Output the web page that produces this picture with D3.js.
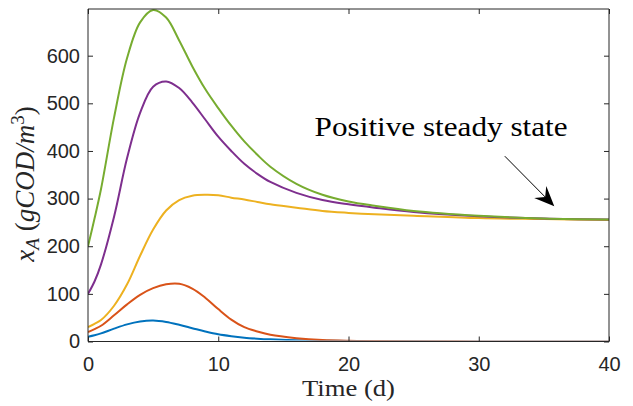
<!DOCTYPE html>
<html>
<head>
<meta charset="utf-8">
<script src="https://cdn.jsdelivr.net/npm/d3@7"></script>
<style>
  html, body { margin: 0; padding: 0; background: #ffffff; }
  svg { display: block; }
</style>
</head>
<body>
<svg id="chart" width="633" height="406"></svg>
<script>
// ---- data ----
const time = [0, 0.5, 1, 2, 3, 4, 5, 6, 7, 8, 9, 10, 11, 12, 13, 14, 16, 18, 20, 22, 25, 30, 35, 40];
const seriesBlue   = [10, 13, 17, 27, 36, 42, 44, 41, 35, 28, 21, 15, 11, 8, 6, 4.5, 2.5, 1.5, 1, 0.6, 0.3, 0.1, 0, 0];
const seriesOrange = [20, 26, 33, 55, 78, 98, 112, 120, 121, 111, 92, 68, 46, 30, 21, 14, 7, 3, 1.5, 1, 0.5, 0.2, 0, 0];
const seriesYellow = [30, 37, 45, 75, 120, 180, 235, 275, 297, 306, 308, 307, 302, 298, 293, 288, 281, 274, 270, 267, 264, 259, 257, 255];
const seriesPurple = [100, 126, 162, 262, 385, 480, 535, 546, 532, 502, 466, 430, 400, 373, 352, 335, 312, 297, 288, 281, 272, 263, 258, 256];
const seriesGreen  = [200, 258, 320, 470, 595, 670, 696, 680, 632, 578, 530, 490, 453, 420, 392, 367, 331, 308, 294, 285, 274, 264, 258, 256];
const seriesColors = ["#0072BD", "#D95319", "#EDB120", "#7E2F8E", "#77AC30"];
const xTicks = [0, 10, 20, 30, 40];
const yTicks = [0, 100, 200, 300, 400, 500, 600];
const xDomain = [0, 40];
const yDomain = [0, 698];
const annotationText = "Positive steady state";
const annotationTextAt = [17.4, 432];     // data coords (t, value) of text start/baseline
const arrowFrom = [32.0, 389];            // data coords
const arrowTo = [35.8, 284];              // data coords

// ---- layout ----
const svg = d3.select("#chart");
const mLeft = 88, mRight = 609, mTop = 9, mBottom = 341.5;
const x = d3.scaleLinear().domain(xDomain).range([mLeft, mRight]);
const y = d3.scaleLinear().domain(yDomain).range([mBottom, mTop]);
const axisColor = "#262626";
const tickFont = "'Liberation Sans', Arial, Helvetica, sans-serif";
const serifFont = "'Liberation Serif', 'Times New Roman', serif";

// ---- lines ----
const allSeries = [seriesBlue, seriesOrange, seriesYellow, seriesPurple, seriesGreen];
const line = d3.line()
  .x((d, i) => x(time[i]))
  .y(d => y(Math.max(0, d)))
  .curve(d3.curveCatmullRom.alpha(0.5));

const plot = svg.append("g");
plot.append("clipPath").attr("id", "clip")
  .append("rect").attr("x", mLeft).attr("y", mTop - 2).attr("width", mRight - mLeft).attr("height", mBottom - mTop + 1);
const linesG = plot.append("g").attr("clip-path", "url(#clip)");
allSeries.forEach((s, k) => {
  linesG.append("path")
    .datum(s)
    .attr("d", line)
    .attr("fill", "none")
    .attr("stroke", seriesColors[k])
    .attr("stroke-width", 2)
    .attr("stroke-linejoin", "round");
});

// ---- axes (box on, ticks inside on all sides) ----
const tickLen = 5;
const xAxisB = d3.axisBottom(x).tickValues(xTicks).tickSize(-tickLen).tickPadding(tickLen + 10).tickFormat(d3.format("d"));
const xAxisT = d3.axisTop(x).tickValues(xTicks).tickSize(-tickLen).tickFormat("");
const yAxisL = d3.axisLeft(y).tickValues(yTicks).tickSize(-tickLen).tickPadding(tickLen + 3).tickFormat(d3.format("d"));
const yAxisR = d3.axisRight(y).tickValues(yTicks).tickSize(-tickLen).tickFormat("");

function styleAxis(g) {
  g.select(".domain").attr("stroke", axisColor).attr("stroke-width", 1);
  g.selectAll(".tick line").attr("stroke", axisColor).attr("stroke-width", 1);
  g.selectAll(".tick text").attr("fill", axisColor).attr("font-family", tickFont).attr("font-size", 20);
}
svg.append("g").attr("transform", `translate(0,${mBottom})`).call(xAxisB).call(styleAxis)
  .call(g => g.select(".domain").attr("d", `M${mLeft},0H${mRight}`));
svg.append("g").attr("transform", `translate(0,${mTop})`).call(xAxisT).call(styleAxis)
  .call(g => g.select(".domain").attr("d", `M${mLeft},0H${mRight}`));
svg.append("g").attr("transform", `translate(${mLeft},0)`).call(yAxisL).call(styleAxis)
  .call(g => g.select(".domain").attr("d", `M0,${mTop}V${mBottom}`));
svg.append("g").attr("transform", `translate(${mRight},0)`).call(yAxisR).call(styleAxis)
  .call(g => g.select(".domain").attr("d", `M0,${mTop}V${mBottom}`));

// ---- axis labels ----
svg.append("text")
  .attr("x", (mLeft + mRight) / 2)
  .attr("y", 396)
  .attr("text-anchor", "middle")
  .attr("font-family", serifFont)
  .attr("font-size", 24)
  .attr("fill", axisColor)
  .attr("textLength", 93)
  .attr("lengthAdjust", "spacingAndGlyphs")
  .text("Time (d)");

const yl = svg.append("text")
  .attr("transform", `translate(34,184) rotate(-90)`)
  .attr("text-anchor", "middle")
  .attr("font-family", serifFont)
  .attr("font-size", 27)
  .attr("fill", axisColor);
yl.append("tspan").attr("font-style", "italic").text("x");
yl.append("tspan").attr("font-style", "italic").attr("font-size", 19).attr("dy", 5).text("A");
yl.append("tspan").attr("dy", -5).text(" (");
yl.append("tspan").attr("font-style", "italic").text("gCOD/m");
yl.append("tspan").attr("font-size", 19).attr("dy", -10).text("3");
yl.append("tspan").attr("dy", 10).text(")");

// ---- annotation ----
svg.append("text")
  .attr("x", x(annotationTextAt[0]))
  .attr("y", y(annotationTextAt[1]))
  .attr("font-family", serifFont)
  .attr("font-size", 27)
  .attr("fill", "#000")
  .attr("textLength", 253)
  .attr("lengthAdjust", "spacingAndGlyphs")
  .text(annotationText);

const ax0 = x(arrowFrom[0]), ay0 = y(arrowFrom[1]);
const ax1 = x(arrowTo[0]), ay1 = y(arrowTo[1]);
const ang = Math.atan2(ay1 - ay0, ax1 - ax0);
const headLen = 20, headHalf = 8.5, notch = 13;
const ux = Math.cos(ang), uy = Math.sin(ang);
const px = -uy, py = ux;
const bx = ax1 - ux * headLen, by = ay1 - uy * headLen;
const nx = ax1 - ux * notch, ny = ay1 - uy * notch;
svg.append("line")
  .attr("x1", ax0).attr("y1", ay0)
  .attr("x2", nx).attr("y2", ny)
  .attr("stroke", "#000").attr("stroke-width", 1);
svg.append("path")
  .attr("d", `M${ax1},${ay1}L${bx + px * headHalf},${by + py * headHalf}L${nx},${ny}L${bx - px * headHalf},${by - py * headHalf}Z`)
  .attr("fill", "#000");
</script>
</body>
</html>
